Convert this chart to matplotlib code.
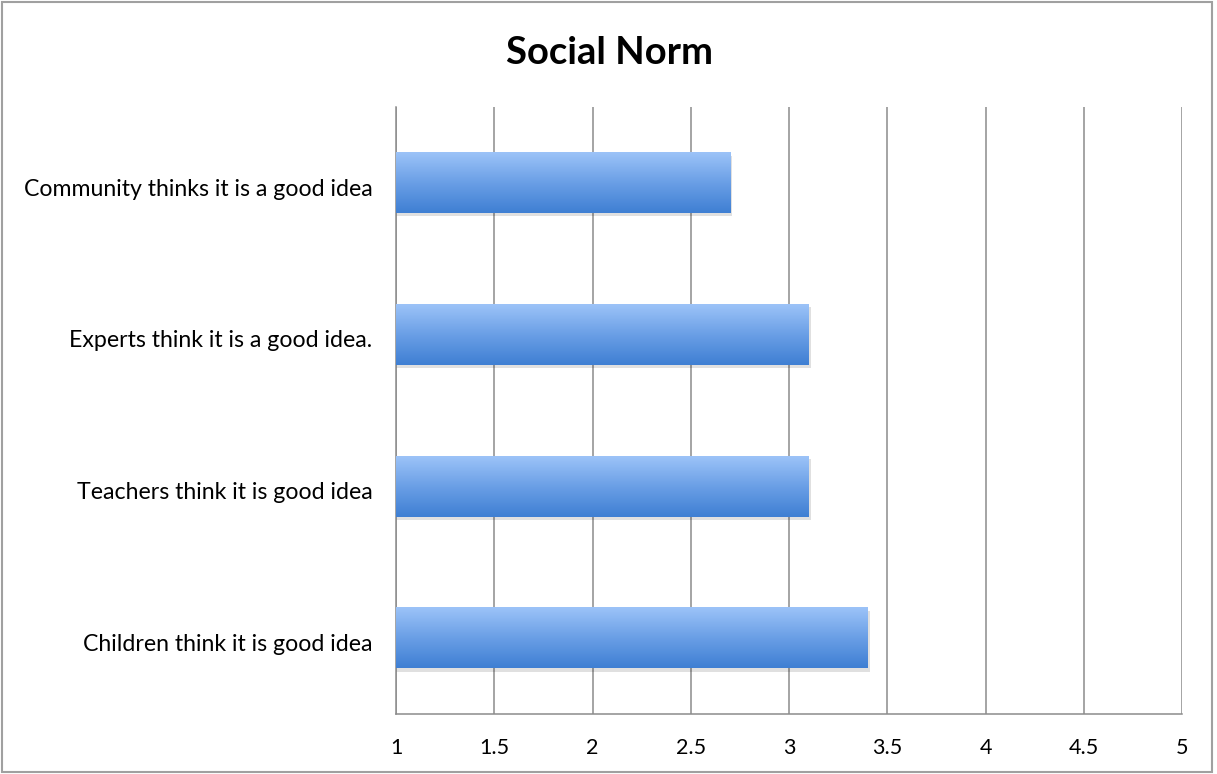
import numpy as np
import matplotlib.pyplot as plt
import matplotlib.transforms as mtransforms
from matplotlib.colors import LinearSegmentedColormap
from matplotlib.patches import Rectangle

categories = [
    "Children think it is good idea",
    "Teachers think it is good idea",
    "Experts think it is a good idea.",
    "Community thinks it is a good idea",
]
scores = [3.4, 3.1, 3.1, 2.7]
x_ticks = [1, 1.5, 2, 2.5, 3, 3.5, 4, 4.5, 5]
x_labels = ["1", "1.5", "2", "2.5", "3", "3.5", "4", "4.5", "5"]

plt.rcParams["font.family"] = ["Lato", "DejaVu Sans"]

fig = plt.figure(figsize=(12.17, 7.74), dpi=100)
ax = fig.add_axes([396 / 1217, 60 / 774, 786 / 1217, 607 / 774])

# frame around the whole chart
fig.patches.append(Rectangle((0.002, 0.003), 0.994, 0.994, transform=fig.transFigure,
                             fill=False, edgecolor="#a0a0a0", linewidth=1.5))

grad = LinearSegmentedColormap.from_list("bar", ["#3f7fd3", "#6a9fe6", "#9cc3f8"])
height = 0.4
base = 1
for i, v in enumerate(scores):
    # soft drop shadow
    ax.add_patch(Rectangle((base, i - height / 2 - 0.02), v - base + 0.01, height,
                           facecolor="#000000", alpha=0.12, edgecolor="none", zorder=2))
    img = np.linspace(0, 1, 100).reshape(-1, 1)
    ax.imshow(img, cmap=grad, aspect="auto", origin="lower",
              extent=(base, v, i - height / 2, i + height / 2), zorder=3)

ax.set_xlim(1, 5)
ax.set_ylim(-0.5, len(categories) - 0.5)
ax.set_xticks(x_ticks)
ax.set_xticklabels(x_labels, fontsize=15.5)
ax.set_yticks(range(len(categories)))
ax.set_yticklabels(categories, fontsize=16.7)
ax.tick_params(axis="both", length=0)
ax.tick_params(axis="x", pad=17)
ax.tick_params(axis="y", pad=17)

# nudge the category labels down a little
shift = mtransforms.ScaledTranslation(0, -3 / 72, fig.dpi_scale_trans)
for lbl in ax.get_yticklabels():
    lbl.set_transform(lbl.get_transform() + shift)

ax.xaxis.grid(True, color="#8c8c8c", linewidth=1.1, zorder=1)
ax.set_axisbelow(True)
for side in ["top", "right"]:
    ax.spines[side].set_visible(False)
for side in ["left", "bottom"]:
    ax.spines[side].set_color("#8c8c8c")
    ax.spines[side].set_linewidth(1.1)

fig.text(609 / 1217, 1 - 53 / 774, "Social Norm", ha="center", va="center",
         fontsize=27.5, fontweight="bold")

fig.savefig("out.png", dpi=100)
